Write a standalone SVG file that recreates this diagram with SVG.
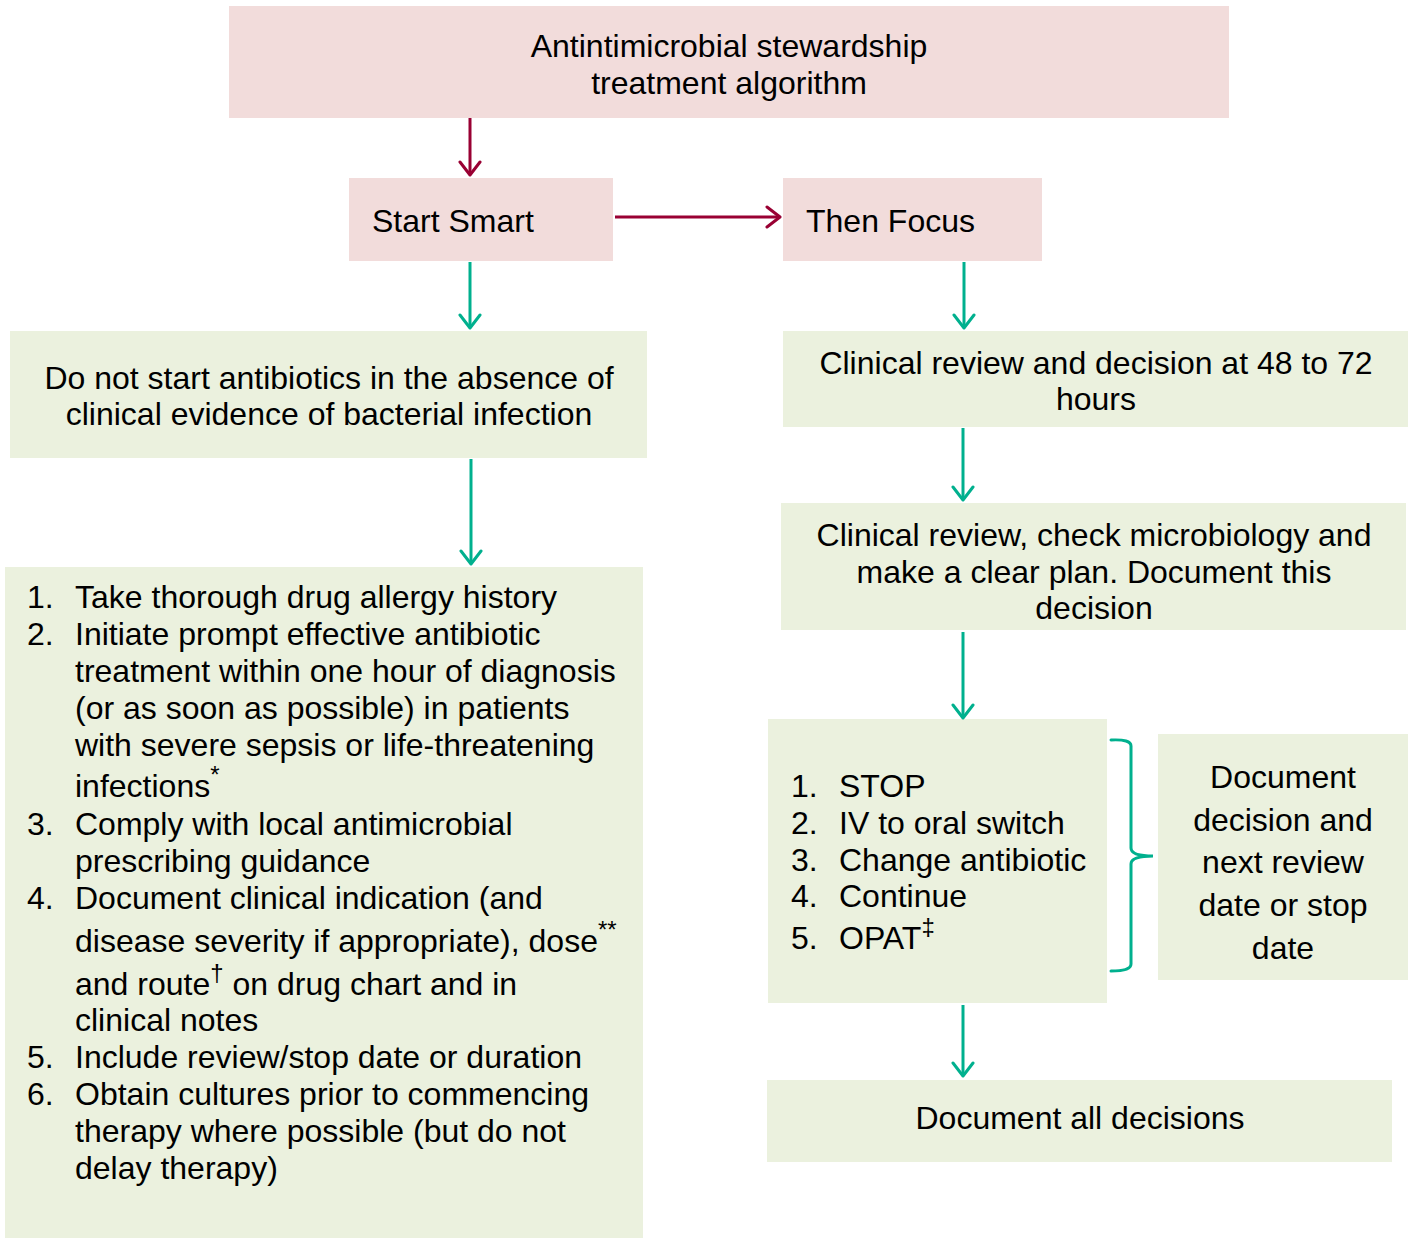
<svg xmlns="http://www.w3.org/2000/svg" width="1415" height="1238" viewBox="0 0 1415 1238">
<style>
text{font-family:"Liberation Sans",Arial,sans-serif;font-size:32px;fill:#000}
.pink{fill:#F2DCDB}
.green{fill:#EBF1DE}
.c{text-anchor:middle}
.red{stroke:#990033;stroke-width:3;fill:none}
.teal{stroke:#00B08E;stroke-width:3;fill:none}
.sup{font-size:24px}
</style>
<defs>
<marker id="ar" viewBox="0 0 24 24" refX="20" refY="12" markerWidth="24" markerHeight="24" markerUnits="userSpaceOnUse" orient="auto">
<path d="M7,2 L20,12 L7,22" fill="none" stroke="#990033" stroke-width="3" stroke-linecap="round" stroke-linejoin="round"/>
</marker>
<marker id="at" viewBox="0 0 24 24" refX="20" refY="12" markerWidth="24" markerHeight="24" markerUnits="userSpaceOnUse" orient="auto">
<path d="M7,2 L20,12 L7,22" fill="none" stroke="#00B08E" stroke-width="3" stroke-linecap="round" stroke-linejoin="round"/>
</marker>
</defs>
<g id="title"><rect class="pink" x="229" y="6" width="1000" height="112"/>
<text class="c" x="729" y="57">Antintimicrobial stewardship</text>
<text class="c" x="729" y="94">treatment algorithm</text></g>
<g id="start-smart"><rect class="pink" x="349" y="178" width="264" height="83"/>
<text x="372" y="232">Start Smart</text></g>
<g id="then-focus"><rect class="pink" x="783" y="178" width="259" height="83"/>
<text x="806" y="232">Then Focus</text></g>
<g id="do-not-start"><rect class="green" x="10" y="331" width="637" height="127"/>
<text class="c" x="329" y="389">Do not start antibiotics in the absence of</text>
<text class="c" x="329" y="425">clinical evidence of bacterial infection</text></g>
<g id="start-list"><rect class="green" x="5" y="567" width="638" height="671"/>
<text x="27" y="608">1.</text><text x="75" y="608">Take thorough drug allergy history</text>
<text x="27" y="645">2.</text><text x="75" y="645">Initiate prompt effective antibiotic</text>
<text x="75" y="682">treatment within one hour of diagnosis</text>
<text x="75" y="719">(or as soon as possible) in patients</text>
<text x="75" y="756">with severe sepsis or life-threatening</text>
<text x="75" y="797">infections<tspan class="sup" dy="-14">*</tspan></text>
<text x="27" y="835">3.</text><text x="75" y="835">Comply with local antimicrobial</text>
<text x="75" y="872">prescribing guidance</text>
<text x="27" y="909">4.</text><text x="75" y="909">Document clinical indication (and</text>
<text x="75" y="952">disease severity if appropriate), dose<tspan class="sup" dy="-14">**</tspan></text>
<text x="75" y="995">and route<tspan class="sup" dy="-14">†</tspan><tspan dy="14"> on drug chart and in</tspan></text>
<text x="75" y="1031">clinical notes</text>
<text x="27" y="1068">5.</text><text x="75" y="1068">Include review/stop date or duration</text>
<text x="27" y="1105">6.</text><text x="75" y="1105">Obtain cultures prior to commencing</text>
<text x="75" y="1142">therapy where possible (but do not</text>
<text x="75" y="1179">delay therapy)</text></g>
<g id="review-48-72"><rect class="green" x="783" y="331" width="625" height="96"/>
<text class="c" x="1096" y="374">Clinical review and decision at 48 to 72</text>
<text class="c" x="1096" y="410">hours</text></g>
<g id="review-micro"><rect class="green" x="781" y="503" width="625" height="127"/>
<text class="c" x="1094" y="546">Clinical review, check microbiology and</text>
<text class="c" x="1094" y="583">make a clear plan. Document this</text>
<text class="c" x="1094" y="619">decision</text></g>
<g id="options"><rect class="green" x="768" y="719" width="339" height="284"/>
<text x="791" y="797">1.</text><text x="839" y="797">STOP</text>
<text x="791" y="834">2.</text><text x="839" y="834">IV to oral switch</text>
<text x="791" y="871">3.</text><text x="839" y="871">Change antibiotic</text>
<text x="791" y="907">4.</text><text x="839" y="907">Continue</text>
<text x="791" y="949">5.</text><text x="839" y="949">OPAT<tspan class="sup" dy="-14">‡</tspan></text></g>
<g id="document-next"><rect class="green" x="1158" y="734" width="250" height="246"/>
<text class="c" x="1283" y="788">Document</text>
<text class="c" x="1283" y="831">decision and</text>
<text class="c" x="1283" y="873">next review</text>
<text class="c" x="1283" y="916">date or stop</text>
<text class="c" x="1283" y="959">date</text></g>
<g id="document-all"><rect class="green" x="767" y="1080" width="625" height="82"/>
<text class="c" x="1080" y="1129">Document all decisions</text></g>
<g id="connectors">
<line class="red" x1="470" y1="118" x2="470" y2="175" marker-end="url(#ar)"/>
<line class="red" x1="615" y1="217" x2="780" y2="217" marker-end="url(#ar)"/>
<line class="teal" x1="470" y1="262" x2="470" y2="328" marker-end="url(#at)"/>
<line class="teal" x1="471" y1="459" x2="471" y2="564" marker-end="url(#at)"/>
<line class="teal" x1="964" y1="262" x2="964" y2="328" marker-end="url(#at)"/>
<line class="teal" x1="963" y1="428" x2="963" y2="500" marker-end="url(#at)"/>
<line class="teal" x1="963" y1="632" x2="963" y2="718" marker-end="url(#at)"/>
<line class="teal" x1="963" y1="1005" x2="963" y2="1076" marker-end="url(#at)"/>
<path class="teal" stroke-linecap="round" d="M1111,740 Q1131,739 1131,746 L1131,848 Q1131,856 1153,856 Q1131,856 1131,864 L1131,964 Q1131,971 1111,971"/>
</g>
</svg>
